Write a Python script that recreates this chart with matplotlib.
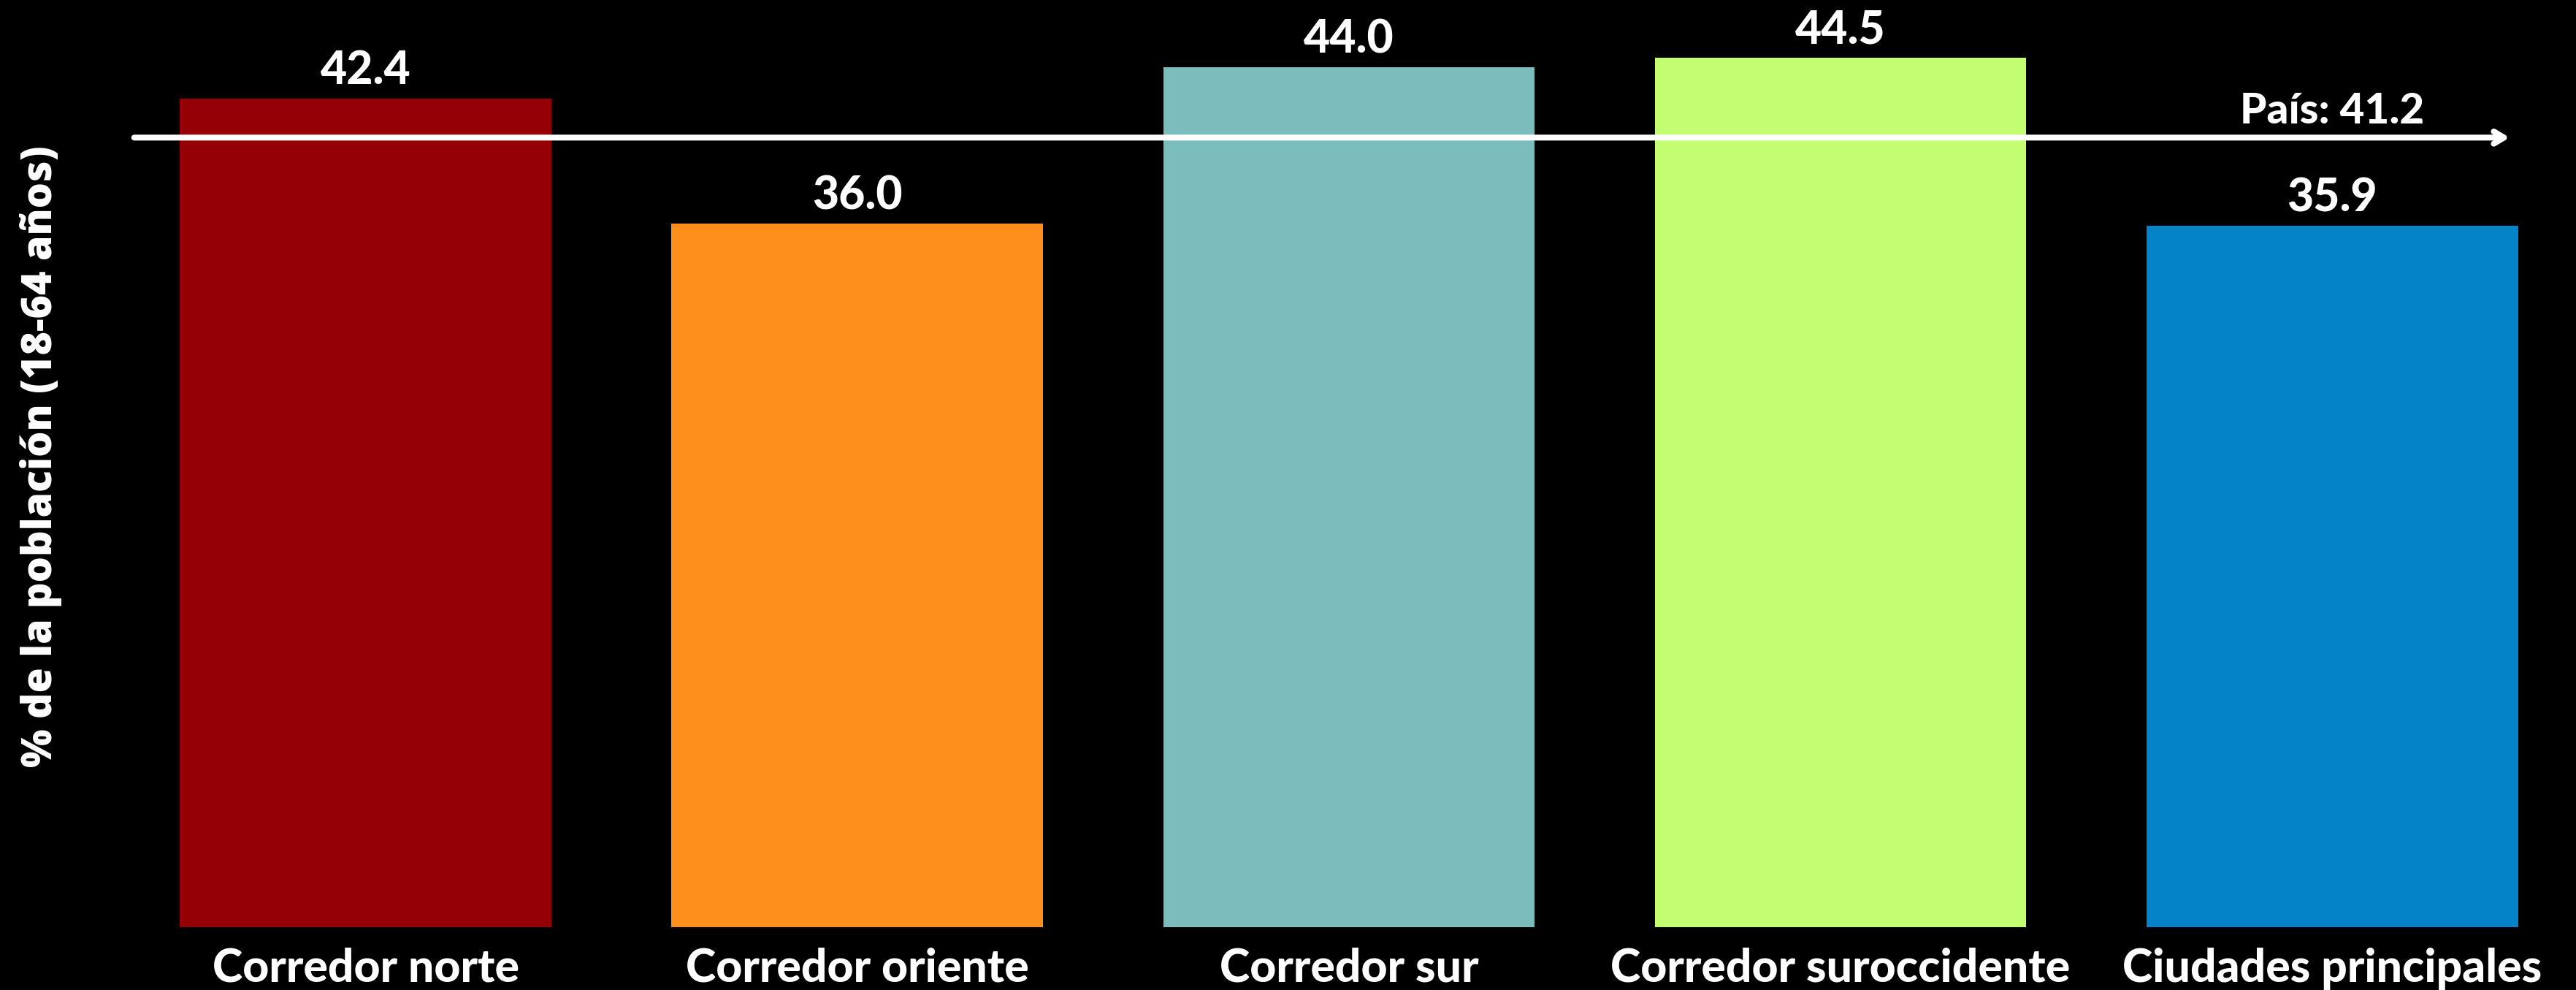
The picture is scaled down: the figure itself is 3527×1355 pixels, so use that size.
import matplotlib
matplotlib.use("Agg")
import matplotlib.pyplot as plt

# datos
categorias = ['Corredor norte', 'Corredor oriente', 'Corredor sur',
              'Corredor suroccidente', 'Ciudades principales']
valores = [42.4, 36.0, 44.0, 44.5, 35.9]
colores = ['#940005', '#FE8F1D', '#7BBCBD', '#C3FE72', '#0583C9']
pais_valor = 41.2
pais_linea = 40.4  # altura a la que está dibujada la flecha

plt.rcParams['font.family'] = ['Lato', 'DejaVu Sans']

fig = plt.figure(figsize=(35.27, 13.55), dpi=100, facecolor='black')
ax = fig.add_axes([0, 86 / 1355, 1, 1269 / 1355])
ax.set_facecolor('black')

x = list(range(len(categorias)))
ax.bar(x, valores, width=0.756, color=colores)

for xi, v in zip(x, valores):
    ax.annotate(f'{v:.1f}', (xi, v), xytext=(0, 14), textcoords='offset points',
                ha='center', va='baseline', color='white', fontsize=45, fontweight=900)

# línea del promedio país
ax.annotate('', xy=(4.361, pais_linea), xytext=(-0.471, pais_linea),
            arrowprops=dict(arrowstyle='->,head_length=1.0,head_width=0.6',
                            color='white', lw=5.8, capstyle='round',
                            joinstyle='round', shrinkA=0, shrinkB=0))
ax.annotate(f'País: {pais_valor}', (4, pais_linea), xytext=(0, 14),
            textcoords='offset points', ha='center', va='baseline',
            color='white', fontsize=42, fontweight=900)

ax.set_xlim(-0.744, 4.496)
ax.set_ylim(0, 47.44)
ax.set_xticks(x)
ax.set_xticklabels(categorias, color='white', fontsize=45, fontweight=900)
ax.tick_params(axis='x', length=0, pad=20)
ax.set_yticks([])
for s in ax.spines.values():
    s.set_visible(False)

fig.text(56 / 3527, 1 - 625 / 1355, '% de la población (18-64 años)', rotation=90,
         ha='center', va='center', color='white', fontsize=40, fontweight=800,
         family=['Open Sans', 'DejaVu Sans'])

fig.savefig('out.png', dpi=100, facecolor='black')
